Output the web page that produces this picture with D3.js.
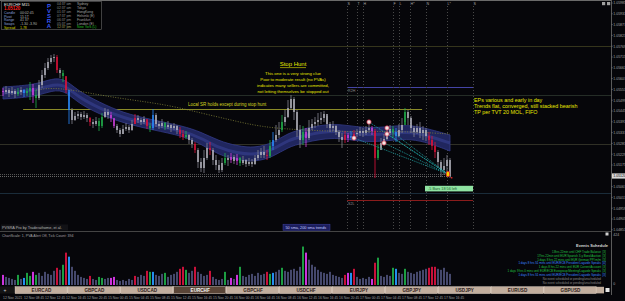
<!DOCTYPE html>
<html>
<head>
<meta charset="utf-8">
<script src="https://cdn.jsdelivr.net/npm/d3@7"></script>
<style>
  html, body { margin: 0; padding: 0; background: #06060a; overflow: hidden; }
  svg { display: block; }
  text { font-family: "Liberation Sans", Arial, sans-serif; }
</style>
</head>
<body>
<svg id="chart" width="625" height="301"></svg>
<script>
// ---- data (EURCHF, 150 bars) ----
var firstOpen = 1.05545;
var closes = [
  1.05540,1.05550,1.05535,1.05545,1.05530,1.05540,1.05550,1.05535,1.05545,1.05560,
  1.05525,1.05510,1.05575,1.05625,1.05660,1.05690,1.05710,1.05715,1.05650,1.05635,
  1.05620,1.05550,1.05450,1.05400,1.05420,1.05430,1.05415,1.05425,1.05410,1.05390,
  1.05380,1.05395,1.05370,1.05415,1.05440,1.05425,1.05410,1.05370,1.05350,1.05330,
  1.05355,1.05365,1.05350,1.05380,1.05410,1.05400,1.05390,1.05405,1.05370,1.05360,
  1.05425,1.05380,1.05370,1.05385,1.05365,1.05375,1.05360,1.05370,1.05350,1.05330,
  1.05315,1.05325,1.05300,1.05280,1.05250,1.05190,1.05160,1.05210,1.05260,1.05250,
  1.05200,1.05175,1.05150,1.05185,1.05210,1.05200,1.05215,1.05195,1.05210,1.05185,
  1.05200,1.05180,1.05190,1.05180,1.05210,1.05225,1.05240,1.05225,1.05220,1.05270,
  1.05300,1.05325,1.05350,1.05390,1.05415,1.05460,1.05505,1.05440,1.05350,1.05300,
  1.05340,1.05310,1.05360,1.05380,1.05390,1.05400,1.05410,1.05430,1.05380,1.05360,
  1.05370,1.05340,1.05315,1.05300,1.05325,1.05310,1.05320,1.05330,1.05335,1.05345,
  1.05335,1.05350,1.05360,1.05345,1.05210,1.05250,1.05285,1.05305,1.05335,1.05355,
  1.05340,1.05320,1.05350,1.05375,1.05440,1.05410,1.05360,1.05340,1.05360,1.05335,
  1.05350,1.05320,1.05300,1.05270,1.05240,1.05190,1.05150,1.05170,1.05200,1.05120
];
var highs = [
  1.05560,1.05570,1.05560,1.05565,1.05555,1.05560,1.05565,1.05555,1.05560,1.05590,
  1.05580,1.05550,1.05600,1.05650,1.05685,1.05710,1.05725,1.05730,1.05725,1.05660,
  1.05650,1.05615,1.05540,1.05460,1.05440,1.05445,1.05440,1.05445,1.05435,1.05415,
  1.05405,1.05415,1.05410,1.05435,1.05460,1.05455,1.05440,1.05405,1.05380,1.05360,
  1.05375,1.05385,1.05375,1.05400,1.05430,1.05425,1.05410,1.05420,1.05400,1.05385,
  1.05455,1.05435,1.05395,1.05405,1.05390,1.05395,1.05380,1.05385,1.05375,1.05365,
  1.05350,1.05345,1.05330,1.05310,1.05290,1.05260,1.05210,1.05250,1.05285,1.05290,
  1.05260,1.05225,1.05200,1.05210,1.05235,1.05225,1.05235,1.05225,1.05230,1.05215,
  1.05220,1.05205,1.05210,1.05205,1.05225,1.05250,1.05260,1.05270,1.05250,1.05300,
  1.05340,1.05375,1.05390,1.05425,1.05450,1.05500,1.05525,1.05515,1.05450,1.05375,
  1.05370,1.05360,1.05400,1.05405,1.05415,1.05435,1.05440,1.05445,1.05420,1.05390,
  1.05395,1.05375,1.05350,1.05335,1.05345,1.05335,1.05345,1.05350,1.05355,1.05365,
  1.05360,1.05370,1.05380,1.05370,1.05355,1.05275,1.05310,1.05330,1.05355,1.05375,
  1.05370,1.05360,1.05380,1.05410,1.05460,1.05450,1.05420,1.05370,1.05380,1.05390,
  1.05370,1.05360,1.05340,1.05320,1.05290,1.05250,1.05200,1.05210,1.05225,1.05210
];
var lows = [
  1.05520,1.05530,1.05515,1.05525,1.05510,1.05520,1.05525,1.05515,1.05520,1.05500,
  1.05485,1.05460,1.05500,1.05560,1.05610,1.05650,1.05680,1.05690,1.05635,1.05610,
  1.05590,1.05535,1.05380,1.05380,1.05395,1.05405,1.05400,1.05405,1.05390,1.05370,
  1.05360,1.05370,1.05345,1.05360,1.05410,1.05405,1.05390,1.05360,1.05335,1.05315,
  1.05330,1.05345,1.05335,1.05345,1.05380,1.05385,1.05375,1.05380,1.05355,1.05340,
  1.05350,1.05365,1.05355,1.05360,1.05350,1.05355,1.05340,1.05350,1.05330,1.05310,
  1.05300,1.05305,1.05280,1.05260,1.05235,1.05160,1.05140,1.05135,1.05200,1.05225,
  1.05175,1.05150,1.05135,1.05140,1.05175,1.05170,1.05185,1.05180,1.05175,1.05170,
  1.05175,1.05165,1.05170,1.05165,1.05175,1.05200,1.05210,1.05210,1.05200,1.05210,
  1.05250,1.05290,1.05310,1.05340,1.05370,1.05410,1.05450,1.05400,1.05315,1.05260,
  1.05275,1.05265,1.05300,1.05350,1.05360,1.05370,1.05380,1.05390,1.05360,1.05340,
  1.05345,1.05325,1.05290,1.05260,1.05285,1.05290,1.05300,1.05305,1.05315,1.05320,
  1.05315,1.05325,1.05335,1.05325,1.05110,1.05200,1.05260,1.05275,1.05300,1.05325,
  1.05310,1.05290,1.05315,1.05335,1.05390,1.05375,1.05335,1.05315,1.05330,1.05310,
  1.05300,1.05295,1.05275,1.05250,1.05210,1.05160,1.05115,1.05125,1.05140,1.05110
];
var volumes = [
  110, 88, 77, 66, 55,110, 66, 77,132, 99,
  143,110,132, 99,143,121,110,154,187,165,
  220,352,308,198,154,110, 88, 77, 66, 99,
   66, 55, 88, 77, 66, 77, 77, 88, 55, 44,
   55, 44, 66, 55, 99, 88,110, 99,154,143,
  143,110, 99,121,132, 88,110,121,143,176,
  198,165,132,154,198,143,121, 99,110,154,
   88, 66, 55, 66,143, 55, 77, 66,110,198,
   99, 88,110,121, 99,132,110,121,143,121,
  132,143,165,187,154,143,165,176,154,198,
  418,352,275,220,198,165,143,132,121,143,
  110, 99, 88, 77,110,132,132,176, 88, 66,
   77, 66, 88, 66,242,297, 99, 88,110, 99,
  187,176,132,121,176,143,132,121,143,154,
  165,176,187,198,198,176,165,187,143,121
];
var redBars = [18, 21, 29, 44, 48, 59, 60, 64, 69, 88, 114, 117, 124, 142, 143, 144];
var greenBars = [5, 8, 9, 11, 20, 32, 33, 49, 54, 61, 74, 79, 89, 93, 100, 125, 130, 134];
var blueBars = [7, 22, 50, 90, 116, 131];
var magentaBars = [0, 10, 36, 37, 76, 78, 101, 115, 123];

// 50 sma ribbon (high / low) and 200 sma, sampled at bar index
var bandIdx = [0, 10, 15, 20, 25, 32, 40, 50, 60, 66, 72, 78, 84, 90, 95, 100, 106, 112, 118, 124, 130, 136, 142, 149];
var sma50Hi = [1.05565,1.05575,1.05600,1.05615,1.05545,1.05490,1.05435,1.05400,1.05370,1.05340,1.05295,1.05270,
               1.05260,1.05285,1.05335,1.05355,1.05375,1.05380,1.05365,1.05360,1.05370,1.05375,1.05355,1.05325];
var sma50Lo = [1.05505,1.05515,1.05540,1.05555,1.05485,1.05430,1.05385,1.05350,1.05320,1.05280,1.05225,1.05200,
               1.05190,1.05215,1.05265,1.05285,1.05305,1.05310,1.05295,1.05290,1.05300,1.05305,1.05285,1.05245];
var sma200Idx = [11, 18, 32, 43, 55, 66, 76, 86, 99, 116, 132, 149];
var sma200 = [1.05550,1.05565,1.05525,1.05500,1.05475,1.05435,1.05400,1.05365,1.05350,1.05340,1.05345,1.05330];

// trade entries and exit
var entryIdx = [117, 122, 128, 128, 127];
var entryPrice = [1.05310, 1.05390, 1.05360, 1.05330, 1.05285];
var exitIdx = 148.3, exitPrice = 1.05130;

// levels
var dayOpen = 1.05770, pivotHi = 1.05525, pivotMid = 1.05280, pivotLo = 1.05035;
var localSR = 1.05455, localSRIdx = [6.7, 139.7];
var r2 = 1.05565, s2 = 1.05000, levelIdx = [114.7, 156.7];
var prevBid = 1.05130;

// session markers
var sessionIdx = [114.7, 118, 120, 130, 132, 135.7, 141, 148, 156.7];
var sessionLabels = ["S", "T", "H", "F", "L", "H*", "N", "L*", "S"];

// axes
var priceTicks = [1.05985,1.05931,1.05877,1.05823,1.05769,1.05715,1.05661,1.05607,1.05553,1.05499,1.05445,
                  1.05391,1.05337,1.05283,1.05229,1.05175,1.05121,1.05067,1.05013,1.04959,1.04905,1.04851];
var timeLabels = ["12 Nov 2021","12 Nov 08:45","12 Nov 12:45","12 Nov 16:45","12 Nov 20:45","15 Nov 00:45",
                  "15 Nov 04:45","15 Nov 08:45","15 Nov 12:45","15 Nov 16:45","15 Nov 20:45","16 Nov 00:45",
                  "16 Nov 04:45","16 Nov 08:45","16 Nov 12:45","16 Nov 16:45","16 Nov 20:45","17 Nov 00:45",
                  "17 Nov 04:45","17 Nov 08:45","17 Nov 12:45","17 Nov 16:45"];
var pairs = ["EURCAD","GBPCAD","USDCAD","EURCHF","GBPCHF","USDCHF","EURJPY","GBPJPY","USDJPY","EURUSD","GBPUSD"];
var activePair = "EURCHF";

// panels
var infoLabels = ["Candle", "Pivot", "Range", "Swaps", "Spread"];
var infoValues = ["00:02:45", "15.1T", "41  37", "-1.30  -3.90", "1.78"];
var cityTimes = ["04:37 am", "02:37 am", "01:37 am", "07:37 pm", "06:37 pm", "05:37 pm", "12:37 pm"];
var cities = ["Sydney", "Tokyo", "HongKong", "Helsinki (E)", "Frankfurt", "London (E)", "New York (L)"];
var stopHuntLines = ["This one is a very strong clue", "Poor to moderate result (no PVAs)",
                     "indicates many sellers are committed,", "not letting themselves be stopped out"];
var noteLines = ["EPs various and early in day", "Trends flat, converged, still stacked bearish", "TP per TVT 20 MOL, FIFO"];
var events = ["13hrs 22min until CHF Trade Balance",
              "17hrs 22min until EUR Spanish 3-y Bond Auction",
              "1 days 8 hrs 22 mins until EUR German PPI m/m",
              "1 days 8 hrs 51 mins until EUR/ECB President Lagarde Speaks",
              "1 days 8 hrs 22 mins until EUR Current Account",
              "1 days 9 hrs 0 mins until EUR/ECB Eurogroup Meeting/Lagarde Speaks",
              "1 days 8 hrs 51 mins until EUR/ECB President Lagarde Speaks",
              "No event scheduled or pending/unscheduled",
              "No event scheduled or pending/unscheduled"];
var eventImpact = ["[3]", "[3]", "[3]", "[4]", "[3]", "[3]", "[3]", "", ""];
var eventKind = ["g", "g", "g", "b", "g", "g", "b", "n", "n"];

// ---- drawing ----
var svg = d3.select("#chart");
var W = 625, H = 301;
var plotRight = 611, mainBottom = 231;

var x = d3.scaleLinear().domain([0, 149]).range([3, 450]);
var y = d3.scaleLinear().domain([1.0600, 1.04845]).range([0, 231]);
var yVol = d3.scaleLinear().domain([0, 424]).range([285, 246]);

var candleCol = {n: "#bdbdc6", r: "#e3123a", g: "#22b24c", b: "#2a8cff", m: "#d23fe0"};
var volCol = {n: "#45486c", r: "#c8113a", g: "#1c9e42", b: "#238ff0", m: "#cc33dd"};

function kind(i) {
  if (redBars.indexOf(i) >= 0) return "r";
  if (greenBars.indexOf(i) >= 0) return "g";
  if (blueBars.indexOf(i) >= 0) return "b";
  if (magentaBars.indexOf(i) >= 0) return "m";
  return "n";
}

var bars = closes.map(function(c, i) {
  return {i: i, o: i ? closes[i - 1] : firstOpen, c: c, h: highs[i], l: lows[i], v: volumes[i], k: kind(i)};
});

svg.append("rect").attr("width", W).attr("height", H).attr("fill", "#06060a");

svg.append("defs").append("clipPath").attr("id", "mainclip")
  .append("rect").attr("x", 0).attr("y", 2).attr("width", plotRight).attr("height", mainBottom - 2);

var main = svg.append("g").attr("clip-path", "url(#mainclip)");

// level lines
function hline(price, color, x1, x2, dash) {
  main.append("line")
    .attr("x1", x1).attr("x2", x2)
    .attr("y1", Math.round(y(price)) + 0.5).attr("y2", Math.round(y(price)) + 0.5)
    .attr("stroke", color).attr("stroke-width", 1)
    .attr("stroke-dasharray", dash || null);
}
hline(dayOpen, "#35351c", 0, plotRight);
hline(pivotHi, "#252d27", 0, plotRight);
hline(pivotMid, "#303026", 0, plotRight);
hline(pivotLo, "#1a2c3a", 0, plotRight);
hline(prevBid, "#555", 0, 450, "1,1");
hline(closes[149], "#666", 0, 452, "1,1");
hline(localSR, "#8a8a28", x(localSRIdx[0]), x(localSRIdx[1]));
hline(r2, "#4444a6", x(levelIdx[0]), x(levelIdx[1]));
hline(s2, "#8a1c1c", x(levelIdx[0]), x(levelIdx[1]));

main.append("text").attr("x", x(levelIdx[0]) + 1).attr("y", y(r2) + 4.5)
  .attr("font-size", 3.6).attr("fill", "#8a8a8a").text("R2H");
main.append("text").attr("x", x(levelIdx[0]) + 1).attr("y", y(s2) + 4.5)
  .attr("font-size", 3.6).attr("fill", "#8a8a8a").text("S2L");

// session lines
main.selectAll(".sess").data(sessionIdx).join("line")
  .attr("x1", d => Math.round(x(d)) + 0.5).attr("x2", d => Math.round(x(d)) + 0.5)
  .attr("y1", 6).attr("y2", mainBottom)
  .attr("stroke", "#484848").attr("stroke-dasharray", "1,2");
main.selectAll(".sessl").data(sessionIdx).join("text")
  .attr("x", d => x(d) + 0.5).attr("y", 5)
  .attr("font-size", 3.6).attr("fill", "#a8a8a8")
  .text((d, i) => sessionLabels[i]);

// 50 sma ribbon
var band = bandIdx.map((d, i) => [d, sma50Hi[i], sma50Lo[i]]);
main.append("path").datum(band)
  .attr("d", d3.area().curve(d3.curveBasis).x(d => x(d[0])).y0(d => y(d[2])).y1(d => y(d[1])))
  .attr("fill", "#20265e").attr("stroke", "#323a86").attr("stroke-width", 0.8);
main.append("path").datum(band)
  .attr("d", d3.line().curve(d3.curveBasis).x(d => x(d[0])).y(d => y((d[1] + d[2]) / 2)))
  .attr("fill", "none").attr("stroke", "#343d8a").attr("stroke-width", 3).attr("opacity", 0.7);

// 200 sma dotted
main.append("path").datum(sma200Idx.map((d, i) => [d, sma200[i]]))
  .attr("d", d3.line().curve(d3.curveBasis).x(d => x(d[0])).y(d => y(d[1])))
  .attr("fill", "none").attr("stroke", "#85853a").attr("stroke-width", 0.8)
  .attr("stroke-dasharray", "1,1.5");

// candles
var cg = main.append("g");
cg.selectAll("line").data(bars).join("line")
  .attr("x1", d => x(d.i)).attr("x2", d => x(d.i))
  .attr("y1", d => y(d.h)).attr("y2", d => y(d.l))
  .attr("stroke", d => d.k == "n" ? "#85858f" : candleCol[d.k]).attr("stroke-width", 0.8);
cg.selectAll("rect").data(bars).join("rect")
  .attr("x", d => x(d.i) - 0.7).attr("width", 1.4)
  .attr("y", d => y(Math.max(d.o, d.c)))
  .attr("height", d => Math.max(1, Math.abs(y(d.o) - y(d.c))))
  .attr("fill", d => candleCol[d.k]);

// trade lines and markers
main.selectAll(".tl").data(entryIdx).join("line")
  .attr("x1", d => x(d)).attr("y1", (d, i) => y(entryPrice[i]))
  .attr("x2", x(exitIdx)).attr("y2", y(exitPrice))
  .attr("stroke", "#1fb3b3").attr("stroke-width", 0.8).attr("stroke-dasharray", "1,1");
main.selectAll(".tm").data(entryIdx).join("circle")
  .attr("cx", d => x(d)).attr("cy", (d, i) => y(entryPrice[i])).attr("r", 2.2)
  .attr("fill", "#f4e4e4").attr("stroke", "#c8203c").attr("stroke-width", 0.7);
main.append("ellipse").attr("cx", x(exitIdx)).attr("cy", y(exitPrice)).attr("rx", 1.8).attr("ry", 2.8)
  .attr("fill", "#f5d000").attr("stroke", "#e02020").attr("stroke-width", 0.8);
main.append("rect").attr("x", x(exitIdx) + 3).attr("y", y(exitPrice) + 3).attr("width", 1.5).attr("height", 1.5)
  .attr("fill", "#e02020");

// top info panel
var info = svg.append("g");
info.append("rect").attr("x", 1.5).attr("y", 1.5).attr("width", 100).attr("height", 28)
  .attr("fill", "#000").attr("stroke", "#6a6a6a").attr("stroke-width", 0.6);
info.append("text").attr("x", 4).attr("y", 5.5).attr("font-size", 4).attr("fill", "#e4e4e4").text("EURCHF  M15");
info.append("text").attr("x", 4).attr("y", 10).attr("font-size", 4.5).attr("font-weight", "bold")
  .attr("fill", "#ff2424").text(d3.format(".5f")(closes[149]));
info.selectAll(".il").data(infoLabels).join("text")
  .attr("x", 4).attr("y", (d, i) => 13.8 + i * 3.8).attr("font-size", 3.5)
  .attr("fill", (d, i) => i == 4 ? "#d8d800" : "#8aa2d8").text(d => d);
info.selectAll(".iv").data(infoValues).join("text")
  .attr("x", 20).attr("y", (d, i) => 13.8 + i * 3.8).attr("font-size", 3.5)
  .attr("fill", (d, i) => i == 4 ? "#d8d800" : "#b4b4b4").text(d => d);
info.selectAll(".pv").data(["P", "V", "S", "R", "A"]).join("text")
  .attr("x", 49).attr("y", (d, i) => 7.5 + i * 5.2).attr("font-size", 6).attr("font-weight", "bold")
  .attr("text-anchor", "middle").attr("fill", "#3858f0").text(d => d);
info.selectAll(".ct").data(cityTimes).join("text")
  .attr("x", 57).attr("y", (d, i) => 5 + i * 3.9).attr("font-size", 3.4)
  .attr("fill", (d, i) => i == 6 ? "#a8a860" : "#8c8c8c").text(d => d);
info.selectAll(".cn").data(cities).join("text")
  .attr("x", 77).attr("y", (d, i) => 5 + i * 3.9).attr("font-size", 3.4)
  .attr("fill", (d, i) => i == 6 ? "#22c022" : "#a4a4a4").text(d => d);

// top right icons
svg.selectAll(".ic").data([602, 607]).join("rect")
  .attr("x", d => d).attr("y", 2).attr("width", 3.2).attr("height", 3.2).attr("fill", "#a0a0a0");

// annotations
var ann = svg.append("g").attr("fill", "#e6e600");
ann.append("text").attr("x", 293).attr("y", 66).attr("font-size", 6).attr("text-anchor", "middle").text("Stop Hunt");
ann.append("line").attr("x1", 280).attr("x2", 306).attr("y1", 67.6).attr("y2", 67.6)
  .attr("stroke", "#e6e600").attr("stroke-width", 0.6);
ann.selectAll(".sh").data(stopHuntLines).join("text")
  .attr("x", 293).attr("y", (d, i) => 75 + i * 6.1).attr("font-size", 4.3).attr("text-anchor", "middle").text(d => d);
ann.append("text").attr("x", 188).attr("y", 105.5).attr("font-size", 4.5).attr("fill", "#d8d820")
  .text("Local SR holds except during stop hunt");
ann.selectAll(".nt").data(noteLines).join("text")
  .attr("x", 474).attr("y", (d, i) => 101.5 + i * 6.4).attr("font-size", 5.4).text(d => d);

// bars-left label
svg.append("rect").attr("x", 425).attr("y", 185.8).attr("width", 48).attr("height", 5.6).attr("fill", "#8fe3a2");
svg.append("text").attr("x", 428).attr("y", 190.1).attr("font-size", 3.8).attr("fill", "#1d5a28")
  .text("-5 Bars    18:56 left");

// footer labels of main window
svg.append("rect").attr("x", 1).attr("y", 224.5).attr("width", 67).attr("height", 6).attr("fill", "#121216");
svg.append("text").attr("x", 2).attr("y", 229).attr("font-size", 3.8).attr("fill", "#b4b4b4")
  .text("PVSRA Pro by Traderathome, et al.");
svg.append("rect").attr("x", 283).attr("y", 224.2).attr("width", 47).attr("height", 6.2)
  .attr("fill", "#1c1e5e").attr("stroke", "#3e42a0").attr("stroke-width", 0.5);
svg.append("text").attr("x", 285.5).attr("y", 228.9).attr("font-size", 3.8).attr("fill", "#c4ccff")
  .text("50 sma, 200 sma trends");

// price axis
svg.append("line").attr("x1", plotRight + 0.5).attr("x2", plotRight + 0.5).attr("y1", 0).attr("y2", 295)
  .attr("stroke", "#5a5a5a");
svg.append("line").attr("x1", 0).attr("x2", plotRight).attr("y1", 0.5).attr("y2", 0.5).attr("stroke", "#6a6a6a");
svg.append("line").attr("x1", 0).attr("x2", plotRight).attr("y1", mainBottom + 0.5).attr("y2", mainBottom + 0.5)
  .attr("stroke", "#444");
var pax = svg.append("g");
pax.selectAll("line").data(priceTicks).join("line")
  .attr("x1", plotRight).attr("x2", plotRight + 2).attr("y1", d => y(d)).attr("y2", d => y(d))
  .attr("stroke", "#777").attr("stroke-width", 0.5);
pax.selectAll("text").data(priceTicks).join("text")
  .attr("x", plotRight + 2.3).attr("y", d => y(d) + 1.3).attr("font-size", 3.5).attr("fill", "#a4a4a4")
  .text(d => d3.format(".5f")(d));
pax.append("rect").attr("x", plotRight + 1).attr("y", y(closes[149]) - 2.6).attr("width", 13.5).attr("height", 5.2)
  .attr("fill", "#d8d8d8");
pax.append("text").attr("x", plotRight + 2.3).attr("y", y(closes[149]) + 1.3).attr("font-size", 3.5)
  .attr("fill", "#000").text(d3.format(".5f")(closes[149]));

// volume window
svg.append("text").attr("x", 2).attr("y", 236.6).attr("font-size", 3.6).attr("fill", "#a4a4a4")
  .text("ChartScale: 1,  PVA Alert Off,  Tick Count: 394");
svg.selectAll(".vb").data(bars).join("rect")
  .attr("x", d => x(d.i) - 1).attr("width", 2)
  .attr("y", d => yVol(d.v)).attr("height", d => yVol(0) - yVol(d.v))
  .attr("fill", d => volCol[d.k]);
svg.append("text").attr("x", plotRight + 2.3).attr("y", 235.5).attr("font-size", 3.5).attr("fill", "#a4a4a4")
  .text("424");
svg.append("text").attr("x", plotRight + 2.3).attr("y", 285).attr("font-size", 3.5).attr("fill", "#a4a4a4").text("0");
svg.append("rect").attr("x", 605.5).attr("y", 232.5).attr("width", 3).attr("height", 3).attr("fill", "#d0d0d0");

// events schedule
var ev = svg.append("g");
ev.append("text").attr("x", 608).attr("y", 247).attr("font-size", 4).attr("font-weight", "bold")
  .attr("text-anchor", "end").attr("fill", "#d8d8d8").text("Events Schedule");
var evCol = {g: "#22c242", b: "#3d86ff", n: "#8c8c8c"};
ev.selectAll(".et").data(events).join("text")
  .attr("x", 601).attr("y", (d, i) => 252.6 + i * 3.95).attr("font-size", 2.95)
  .attr("text-anchor", "end").attr("fill", (d, i) => evCol[eventKind[i]]).text(d => d);
ev.selectAll(".ei").data(eventImpact).join("text")
  .attr("x", 602.5).attr("y", (d, i) => 252.6 + i * 3.95).attr("font-size", 2.95)
  .attr("fill", (d, i) => evCol[eventKind[i]]).text(d => d);

// pair buttons
var btnW = 52.9;
svg.append("rect").attr("x", 0).attr("y", 286.5).attr("width", 14).attr("height", 7).attr("fill", "#141414");
svg.append("text").attr("x", 3.5).attr("y", 292).attr("font-size", 5).attr("fill", "#d0d0d0").text("+");
svg.append("rect").attr("x", 15).attr("y", 286.8).attr("width", 589).attr("height", 6.6).attr("fill", "#c2ae9e");
var btn = svg.selectAll(".btn").data(pairs).join("g")
  .attr("transform", (d, i) => "translate(" + (15 + i * btnW) + ",286.8)");
btn.append("rect").attr("width", btnW - 0.8).attr("height", 6.6)
  .attr("fill", d => d == activePair ? "#5a4537" : "#c2ae9e")
  .attr("stroke", "#e8dcd0").attr("stroke-width", 0.4);
btn.append("text").attr("x", btnW / 2).attr("y", 5.1).attr("text-anchor", "middle")
  .attr("font-size", 4.6).attr("font-weight", "bold")
  .attr("fill", d => d == activePair ? "#f4f4f4" : "#2e2018").text(d => d);
svg.append("rect").attr("x", 605.5).attr("y", 288).attr("width", 4).attr("height", 4).attr("fill", "#e6e6e6");

// time axis
svg.selectAll(".tt").data(timeLabels).join("text")
  .attr("x", (d, i) => x(i * 7)).attr("y", 298.8).attr("font-size", 3.4).attr("fill", "#a0a0a0")
  .text(d => d);
</script>
</body>
</html>
